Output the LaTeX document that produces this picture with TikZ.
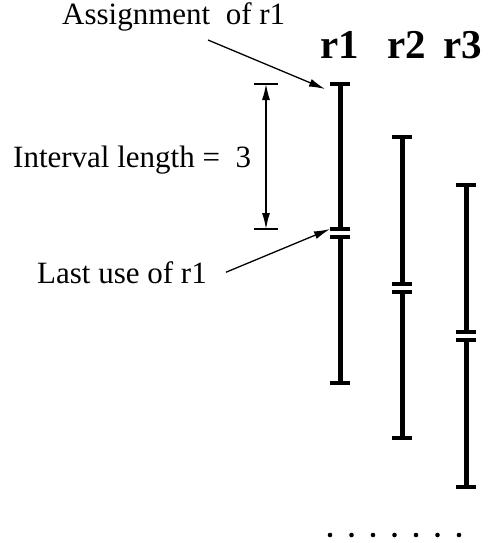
\documentclass[tikz,border=0pt]{standalone}
\usepackage{fontspec}
\setmainfont{Liberation Serif}
\usetikzlibrary{arrows.meta}

\begin{document}
\begin{tikzpicture}[
        x=1pt, y=-1pt,
        txt/.style={inner sep=0pt, font=\fontsize{31}{37}\selectfont},
        reglabel/.style={inner sep=0pt, font=\fontsize{41}{48}\selectfont\bfseries},
        bar/.style={line width=5pt},
        endtick/.style={line width=4pt},
        dimtick/.style={line width=1.3pt},
        pointer/.style={line width=1.3pt, -{Latex[length=16pt,width=8pt]}},
        dimline/.style={line width=1.3pt, {Latex[length=16pt,width=8pt]}-{Latex[length=16pt,width=8pt]}}
    ]
    \useasboundingbox (0,0) rectangle (487,543);

    % register labels
    \node[reglabel, anchor=base] (r1) at (339.5,59) {r1};
    \node[reglabel, anchor=base] (r2) at (406.5,59) {r2};
    \node[reglabel, anchor=base] (r3) at (462.5,59) {r3};

    % live intervals: x / top / use / bottom
    \foreach \x/\t/\m/\b/\n in {340/84/233/383/1, 402/137/287.5/438/2, 466/185/336.3/487/3} {
        \coordinate (top\n) at (\x,\t);
        \coordinate (use\n) at (\x-10,\m-4);
        \draw[bar] (\x,\t) -- (\x,\m-4);
        \draw[bar] (\x,\m+4) -- (\x,\b);
        \draw[endtick] (\x-10,\t) -- (\x+10,\t);
        \draw[endtick] (\x-10,\m-4) -- (\x+10,\m-4);
        \draw[endtick] (\x-10,\m+4) -- (\x+10,\m+4);
        \draw[endtick] (\x-10,\b) -- (\x+10,\b);
    }

    % annotations
    \node[txt, anchor=base west] (assign) at (62,25) {Assignment\ \ of r1};
    \node[txt, anchor=base west] (interval) at (13,167) {Interval length =\ \ 3};
    \node[txt, anchor=base west] (lastuse) at (37,283) {Last use of r1};

    \coordinate (assignfoot) at (208,40);
    \draw[pointer] (assignfoot) -- ([shift={(-15pt,-5pt)}]top1);
    \draw[pointer] ([xshift=19pt]lastuse.east) -- (use1);

    % interval length
    \coordinate (dimtop) at (266,84);
    \coordinate (dimbot) at (266,229);
    \draw[dimtick] ([xshift=-12pt]dimtop) -- ([xshift=12pt]dimtop);
    \draw[dimtick] ([xshift=-12pt]dimbot) -- ([xshift=12pt]dimbot);
    \draw[dimline] (dimtop) -- (dimbot);

    % more registers
    \foreach \i in {0,...,6}
        \fill (330+21.5*\i,535) circle (2.3);

\end{tikzpicture}
\end{document}
